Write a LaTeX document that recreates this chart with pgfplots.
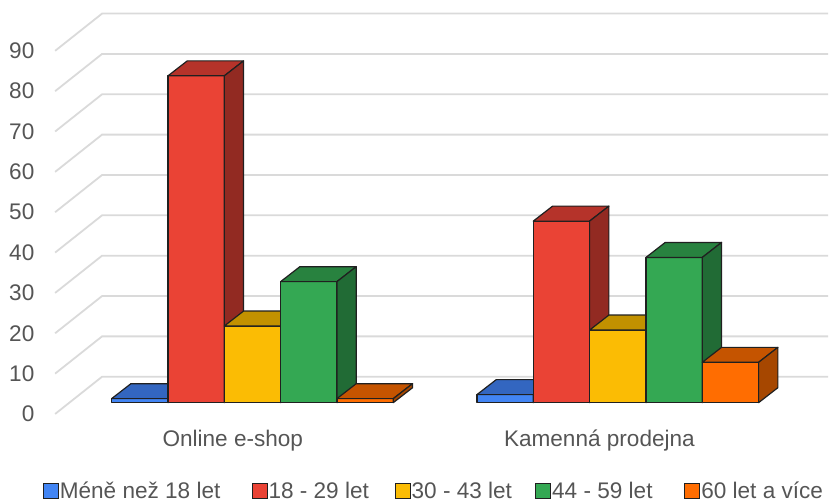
\documentclass[border=0pt]{standalone}
\usepackage{fontspec}
\setmainfont{Liberation Sans}
\usepackage{pgfplots}
\usepackage{pgfplotstable}
\pgfplotsset{compat=1.18}

% colours: front face, top face, side face
\definecolor{blueF}{HTML}{4285F4}\definecolor{blueT}{HTML}{3366C0}\definecolor{blueS}{HTML}{2A56A3}
\definecolor{redF}{HTML}{EA4335}\definecolor{redT}{HTML}{B5332A}\definecolor{redS}{HTML}{922A22}
\definecolor{yelF}{HTML}{FBBC04}\definecolor{yelT}{HTML}{C29100}\definecolor{yelS}{HTML}{A07800}
\definecolor{grnF}{HTML}{34A853}\definecolor{grnT}{HTML}{28823F}\definecolor{grnS}{HTML}{216B35}
\definecolor{orgF}{HTML}{FF6D01}\definecolor{orgT}{HTML}{C55400}\definecolor{orgS}{HTML}{A64700}
\definecolor{edgecol}{HTML}{202020}
\definecolor{gridcol}{HTML}{DADADA}
\definecolor{labelgray}{HTML}{555555}

% bar geometry (x in px-like units, y in data units)
\def\barW{56.4}   % bar width
\def\depX{19.3}   % depth offset in x
\def\depV{3.71}   % depth offset in y
\def\baseV{2.8}   % front face base above the front floor line

\pgfdeclareplotmark{empty}{}

\pgfplotsset{
  box3d/.style n args={4}{%
    forget plot, only marks, mark=empty, scatter,
    visualization depends on={\thisrow{#4}\as\barval},
    scatter/@pre marker code/.code={},
    scatter/@post marker code/.code={%
      \draw[fill=#1, draw=edgecol, line width=0.6pt, line join=round]
        (0pt,0pt) rectangle (axis direction cs:\barW,-\barval);
      \draw[fill=#2, draw=edgecol, line width=0.6pt, line join=round]
        (0pt,0pt) -- (axis direction cs:\barW,0) -- (axis direction cs:\barW+\depX,\depV)
        -- (axis direction cs:\depX,\depV) -- cycle;
      \draw[fill=#3, draw=edgecol, line width=0.6pt, line join=round]
        (axis direction cs:\barW,0) -- (axis direction cs:\barW+\depX,\depV)
        -- (axis direction cs:\barW+\depX,\depV-\barval) -- (axis direction cs:\barW,-\barval) -- cycle;
    },
  },
}

% responses by age group
\pgfplotstableread{
group    pos    blue  red  yellow  green  orange
online   111.6  1     81   19      30     1
kamenna  477.4  2     45   18      36     10
}\agedata

\begin{document}
\begin{tikzpicture}
\begin{axis}[
  width=414.5pt, height=251.5pt, scale only axis,
  xmin=0, xmax=829, ymin=-21.95, ymax=102.55,
  clip=false,
  axis line style={draw=none},
  major tick length=0pt,
  /pgf/number format/assume math mode=true,
  ytick={0,10,...,90},
  yticklabel style={anchor=east, inner sep=0pt, xshift=17.3pt,
    text=labelgray, font=\fontsize{11.3}{13.5}\selectfont},
  xtick={232.9,600},
  xticklabels={Online e-shop, Kamenná prodejna},
  xticklabel style={anchor=base, inner sep=0pt, yshift=28pt,
    text=labelgray, font=\fontsize{11.3}{13.5}\selectfont},
  legend columns=5,
  legend cell align=left,
  legend image code/.code={\draw[#1] (0pt,-3.75pt) rectangle (7.5pt,3.75pt);},
  legend style={at={(axis description cs:0.0515,0)}, anchor=south west,
    yshift=1.6pt,
    draw=none, fill=none, inner sep=0pt, outer sep=0pt,
    nodes={inner sep=0pt, text=labelgray, text height=7.5pt, text depth=0pt},
    font=\fontsize{11.3}{13.5}\selectfont,
    /tikz/column 1/.style={column sep=0.5pt},
    /tikz/column 2/.style={column sep=15.6pt},
    /tikz/column 3/.style={column sep=0.5pt},
    /tikz/column 4/.style={column sep=12.9pt},
    /tikz/column 5/.style={column sep=0.5pt},
    /tikz/column 6/.style={column sep=11.6pt},
    /tikz/column 7/.style={column sep=0.5pt},
    /tikz/column 8/.style={column sep=15.9pt},
    /tikz/column 9/.style={column sep=0.5pt},
  },
]
% back wall and side wall grid
\addplot[gridcol, line width=0.9pt, forget plot] coordinates {(55,0)  (102,9.23)  (829,9.23)};
\addplot[gridcol, line width=0.9pt, forget plot] coordinates {(55,10) (102,19.23) (829,19.23)};
\addplot[gridcol, line width=0.9pt, forget plot] coordinates {(55,20) (102,29.23) (829,29.23)};
\addplot[gridcol, line width=0.9pt, forget plot] coordinates {(55,30) (102,39.23) (829,39.23)};
\addplot[gridcol, line width=0.9pt, forget plot] coordinates {(55,40) (102,49.23) (829,49.23)};
\addplot[gridcol, line width=0.9pt, forget plot] coordinates {(55,50) (102,59.23) (829,59.23)};
\addplot[gridcol, line width=0.9pt, forget plot] coordinates {(55,60) (102,69.23) (829,69.23)};
\addplot[gridcol, line width=0.9pt, forget plot] coordinates {(55,70) (102,79.23) (829,79.23)};
\addplot[gridcol, line width=0.9pt, forget plot] coordinates {(55,80) (102,89.23) (829,89.23)};
\addplot[gridcol, line width=0.9pt, forget plot] coordinates {(55,90) (102,99.23) (829,99.23)};

% 3D bars, left to right within each group
\addplot[box3d={blueF}{blueT}{blueS}{blue}]
  table[x expr=\thisrow{pos}, y expr=\thisrow{blue}+\baseV] {\agedata};
\addplot[box3d={redF}{redT}{redS}{red}]
  table[x expr=\thisrow{pos}+\barW, y expr=\thisrow{red}+\baseV] {\agedata};
\addplot[box3d={yelF}{yelT}{yelS}{yellow}]
  table[x expr=\thisrow{pos}+2*\barW, y expr=\thisrow{yellow}+\baseV] {\agedata};
\addplot[box3d={grnF}{grnT}{grnS}{green}]
  table[x expr=\thisrow{pos}+3*\barW, y expr=\thisrow{green}+\baseV] {\agedata};
\addplot[box3d={orgF}{orgT}{orgS}{orange}]
  table[x expr=\thisrow{pos}+4*\barW, y expr=\thisrow{orange}+\baseV] {\agedata};

% legend
\addlegendimage{fill=blueF, draw=edgecol, line width=0.5pt}
\addlegendentry{Méně než 18 let}
\addlegendimage{fill=redF, draw=edgecol, line width=0.5pt}
\addlegendentry{18 - 29 let}
\addlegendimage{fill=yelF, draw=edgecol, line width=0.5pt}
\addlegendentry{30 - 43 let}
\addlegendimage{fill=grnF, draw=edgecol, line width=0.5pt}
\addlegendentry{44 - 59 let}
\addlegendimage{fill=orgF, draw=edgecol, line width=0.5pt}
\addlegendentry{60 let a více}
\end{axis}
\end{tikzpicture}
\end{document}
